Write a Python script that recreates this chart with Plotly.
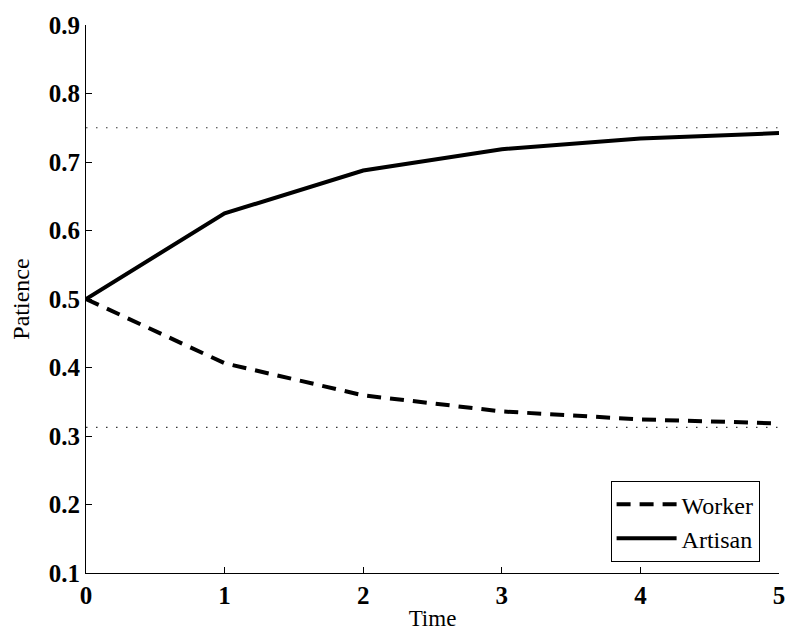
import plotly.graph_objects as go

time = [0, 1, 2, 3, 4, 5]
worker = [0.5, 0.40625, 0.359375, 0.3359, 0.3242, 0.3184]
artisan = [0.5, 0.625, 0.6875, 0.71875, 0.7344, 0.7422]
upper_limit = 0.75
lower_limit = 0.3125
x_ticks = [0, 1, 2, 3, 4, 5]
y_ticks = [0.1, 0.2, 0.3, 0.4, 0.5, 0.6, 0.7, 0.8, 0.9]

FONT = "Liberation Serif"

fig = go.Figure()
fig.add_trace(go.Scatter(x=[time[0], time[-1]], y=[upper_limit, upper_limit], mode="lines",
                         line=dict(color="#333", width=1.2, dash="1.5px,8.5px"), showlegend=False,
                         hoverinfo="skip"))
fig.add_trace(go.Scatter(x=[time[0], time[-1]], y=[lower_limit, lower_limit], mode="lines",
                         line=dict(color="#333", width=1.2, dash="1.5px,8.5px"), showlegend=False,
                         hoverinfo="skip"))
fig.add_trace(go.Scatter(x=time, y=worker, mode="lines", name="Worker",
                         line=dict(color="black", width=4, dash="14px,9px")))
fig.add_trace(go.Scatter(x=time, y=artisan, mode="lines", name="Artisan",
                         line=dict(color="black", width=4)))

axis_common = dict(showgrid=False, zeroline=False, showline=True, linecolor="black", linewidth=1,
                   ticks="inside", ticklen=6, tickcolor="black", tickwidth=1, automargin=False,
                   tickfont=dict(family=FONT, size=25, color="black", weight="bold"))

fig.update_layout(
    width=787, height=631,
    margin=dict(l=86, r=8, t=25, b=58, autoexpand=False),
    paper_bgcolor="white", plot_bgcolor="white",
    font=dict(family=FONT, color="black"),
    xaxis=dict(range=[0, 5], tickvals=x_ticks, ticktext=[str(v) for v in x_ticks],
               title=dict(text="Time", font=dict(family=FONT, size=23, color="black"), standoff=4), **axis_common),
    yaxis=dict(range=[0.1, 0.9], tickvals=y_ticks, ticktext=[f"{v:.1f}" for v in y_ticks],
               title=dict(text="Patience", font=dict(family=FONT, size=24, color="black"), standoff=12), **axis_common),
    legend=dict(x=0.972, y=0.02, xanchor="right", yanchor="bottom", bgcolor="white",
                bordercolor="black", borderwidth=1, font=dict(family=FONT, size=24, color="black"),
                tracegroupgap=0, itemwidth=60),
    showlegend=True,
)

fig.write_html("out.html", config={"displayModeBar": False},
               post_script="document.body.style.margin='0px';document.body.style.overflow='hidden';")
